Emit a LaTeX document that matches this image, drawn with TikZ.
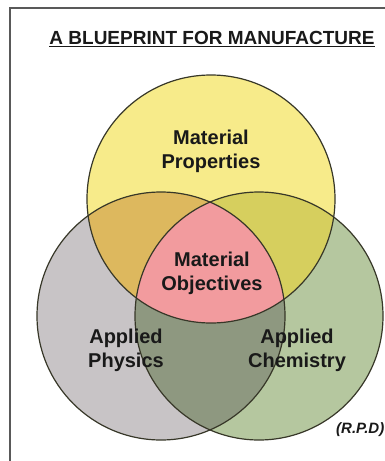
\documentclass[tikz,border=0pt]{standalone}
\usepackage{fontspec}
\setmainfont{Liberation Sans}
\definecolor{colorprop}{RGB}{247,235,138}
\definecolor{colorphys}{RGB}{200,196,198}
\definecolor{colorchem}{RGB}{181,199,159}
\definecolor{colorpropphys}{RGB}{221,184,94}
\definecolor{colorpropchem}{RGB}{214,207,94}
\definecolor{colorphyschem}{RGB}{142,152,128}
\definecolor{colorobj}{RGB}{242,155,158}
\definecolor{colorline}{RGB}{55,55,40}

\begin{document}
\begin{tikzpicture}[x=1pt,y=-1pt,
	label/.style={align=center,text=black!90,font=\fontsize{20}{24}\selectfont\bfseries},
	ring/.style={draw=colorline,line width=1.2pt}]
		\useasboundingbox (0,0) rectangle (385,461);
		\draw[black!65,line width=1.5pt] (10,462) -- (10,8) -- (386,8);
		
		\coordinate (prop) at (211,199);
		\coordinate (phys) at (161,316);
		\coordinate (chem) at (259,316);
		
		\fill[colorphys] (phys) circle[radius=124pt];
		\fill[colorchem] (chem) circle[radius=124pt];
		\fill[colorprop] (prop) circle[radius=124pt];
		\begin{scope}
			\clip (prop) circle[radius=124pt];
			\fill[colorpropphys] (phys) circle[radius=124pt];
			\fill[colorpropchem] (chem) circle[radius=124pt];
		\end{scope}
		\begin{scope}
			\clip (phys) circle[radius=124pt];
			\fill[colorphyschem] (chem) circle[radius=124pt];
			\clip (chem) circle[radius=124pt];
			\fill[colorobj] (prop) circle[radius=124pt];
		\end{scope}
		\foreach \c in {prop,phys,chem}
			\draw[ring] (\c) circle[radius=124pt];
		
		\node[label] (title) at (212,39) {\fontsize{19}{23}\selectfont\underline{A BLUEPRINT FOR MANUFACTURE}};
		\node[label] (properties) at (211,151) {Material\\Properties};
		\node[label] (objectives) at (212,273) {Material\\Objectives};
		\node[label] (physics) at (126,350) {Applied\\Physics};
		\node[label] (chemistry) at (297,350) {Applied\\Chemistry};
		\node[text=black!90,font=\fontsize{15}{17}\selectfont\bfseries\itshape,anchor=west,inner sep=0pt] (author) at (336,430) {(R.P.D)};
		
\end{tikzpicture}
\end{document}
